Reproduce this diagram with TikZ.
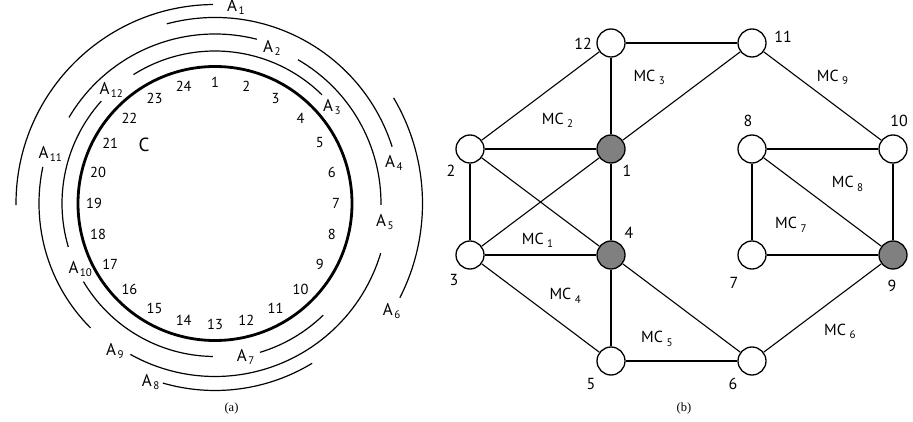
\documentclass[tikz,border=0pt]{standalone}
\usepackage{fontspec}
\setmainfont{PT Sans}
\newfontfamily\capfont{Liberation Serif}
\newcommand{\lsub}[1]{\hspace{1.5pt}\raisebox{-3pt}{\fontsize{11}{13}\selectfont #1}}
\newcommand{\msub}[1]{\hspace{3.5pt}\raisebox{-3.5pt}{\fontsize{11}{13}\selectfont #1}}
\begin{document}
\begin{tikzpicture}[x=1pt,y=-1pt,
  thinarc/.style={line width=1.2pt},
  ring/.style={line width=2.8pt},
  alab/.style={inner sep=0pt, anchor=base west, font=\fontsize{17}{20}\selectfont},
  cnum/.style={inner sep=0pt, font=\fontsize{14.5}{17}\selectfont},
  vtx/.style={circle, draw, line width=1.3pt, minimum size=28pt, inner sep=0pt, fill=white},
  hub/.style={vtx, fill=black!50},
  edge/.style={line width=1.1pt},
  vlab/.style={inner sep=0pt, font=\fontsize{16}{19}\selectfont},
  mclab/.style={inner sep=0pt, anchor=base west, font=\fontsize{16}{19}\selectfont},
  captxt/.style={inner sep=0pt, font=\capfont\fontsize{12.5}{15}\selectfont}]
\useasboundingbox (0,0) rectangle (913,422);
% ---------- (a) ----------
\coordinate (O) at (215,203.5);
\draw[ring] (O) circle[radius=137];
\foreach \s/\e/\r in {122.3/45.4/152.5, 138/196.5/153, 210.7/269.2/153, -45.9/-73.2/155.5,
  149.5/75.7/169.5, 60/-0.5/166, 168/225/176, -16.7/-119.3/173,
  105/17.8/186, -58.7/-106.2/187, 180.5/90.6/199, 30.6/-27/207.5}
  \draw[thinarc] ([shift={(-\s:\r)}]O) arc[start angle=-\s, end angle=-\e, radius=\r];
\foreach \k [evaluate=\k as \a using 15*(\k-1)-90] in {1,...,24}
  \node[cnum] (n\k) at ([shift={(\a:121)}]O) {\k};
\node[inner sep=0pt, font=\fontsize{19}{22}\selectfont] (C) at (144,144.5) {C};
\node[alab] (A1) at (227,12) {A\lsub{1}};
\node[alab] (A2) at (263,52.7) {A\lsub{2}};
\node[alab] (A3) at (323,111.7) {A\lsub{3}};
\node[alab] (A4) at (385,168) {A\lsub{4}};
\node[alab] (A5) at (376,226.7) {A\lsub{5}};
\node[alab] (A6) at (382.7,315) {A\lsub{6}};
\node[alab] (A7) at (236.7,361.7) {A\lsub{7}};
\node[alab] (A8) at (141.7,386.7) {A\lsub{8}};
\node[alab] (A9) at (106,355) {A\lsub{9}};
\node[alab] (A10) at (68.3,273.3) {A\lsub{10}};
\node[alab] (A11) at (38.3,158.3) {A\lsub{11}};
\node[alab] (A12) at (99.3,95) {A\lsub{12}};
\node[captxt] (capa) at (231.5,408) {(a)};
% ---------- (b) ----------
\node[vtx] (v12) at (611,43) {};
\node[vtx] (v11) at (752,43) {};
\node[vtx] (v2) at (470,149) {};
\node[hub] (v1) at (611,149) {};
\node[vtx] (v8) at (752,149) {};
\node[vtx] (v10) at (893,149) {};
\node[vtx] (v3) at (470,255) {};
\node[hub] (v4) at (611,255) {};
\node[vtx] (v7) at (752,255) {};
\node[hub] (v9) at (893,255) {};
\node[vtx] (v5) at (611,361) {};
\node[vtx] (v6) at (752,361) {};
\foreach \p/\q in {v12/v11, v12/v2, v12/v1, v2/v1, v1/v11, v2/v3, v2/v4, v3/v1, v3/v4,
  v1/v4, v3/v5, v4/v5, v4/v6, v5/v6, v6/v9, v11/v10, v8/v10, v8/v9, v8/v7, v7/v9, v10/v9}
  \draw[edge] (\p) -- (\q);
\node[vlab] (l12) at (583,44) {12};
\node[vlab] (l2) at (451,171) {2};
\node[vlab] (l1) at (627,171) {1};
\node[vlab] (l11) at (783,37) {11};
\node[vlab] (l8) at (748,121) {8};
\node[vlab] (l10) at (899,121) {10};
\node[vlab] (l3) at (454,280) {3};
\node[vlab] (l4) at (629,233) {4};
\node[vlab] (l5) at (591,384) {5};
\node[vlab] (l7) at (734,283) {7};
\node[vlab] (l9) at (892,286) {9};
\node[vlab] (l6) at (733,384) {6};
\node[mclab] (mc1) at (521.7,244) {MC\msub{1}};
\node[mclab] (mc2) at (541.7,124.5) {MC\msub{2}};
\node[mclab] (mc3) at (633.3,81.5) {MC\msub{3}};
\node[mclab] (mc4) at (549.3,299.5) {MC\msub{4}};
\node[mclab] (mc5) at (641,342.5) {MC\msub{5}};
\node[mclab] (mc6) at (824,335) {MC\msub{6}};
\node[mclab] (mc7) at (775,229) {MC\msub{7}};
\node[mclab] (mc8) at (831.7,188) {MC\msub{8}};
\node[mclab] (mc9) at (816.7,81.5) {MC\msub{9}};
\node[captxt] (capb) at (684,408) {(b)};
\end{tikzpicture}
\end{document}
